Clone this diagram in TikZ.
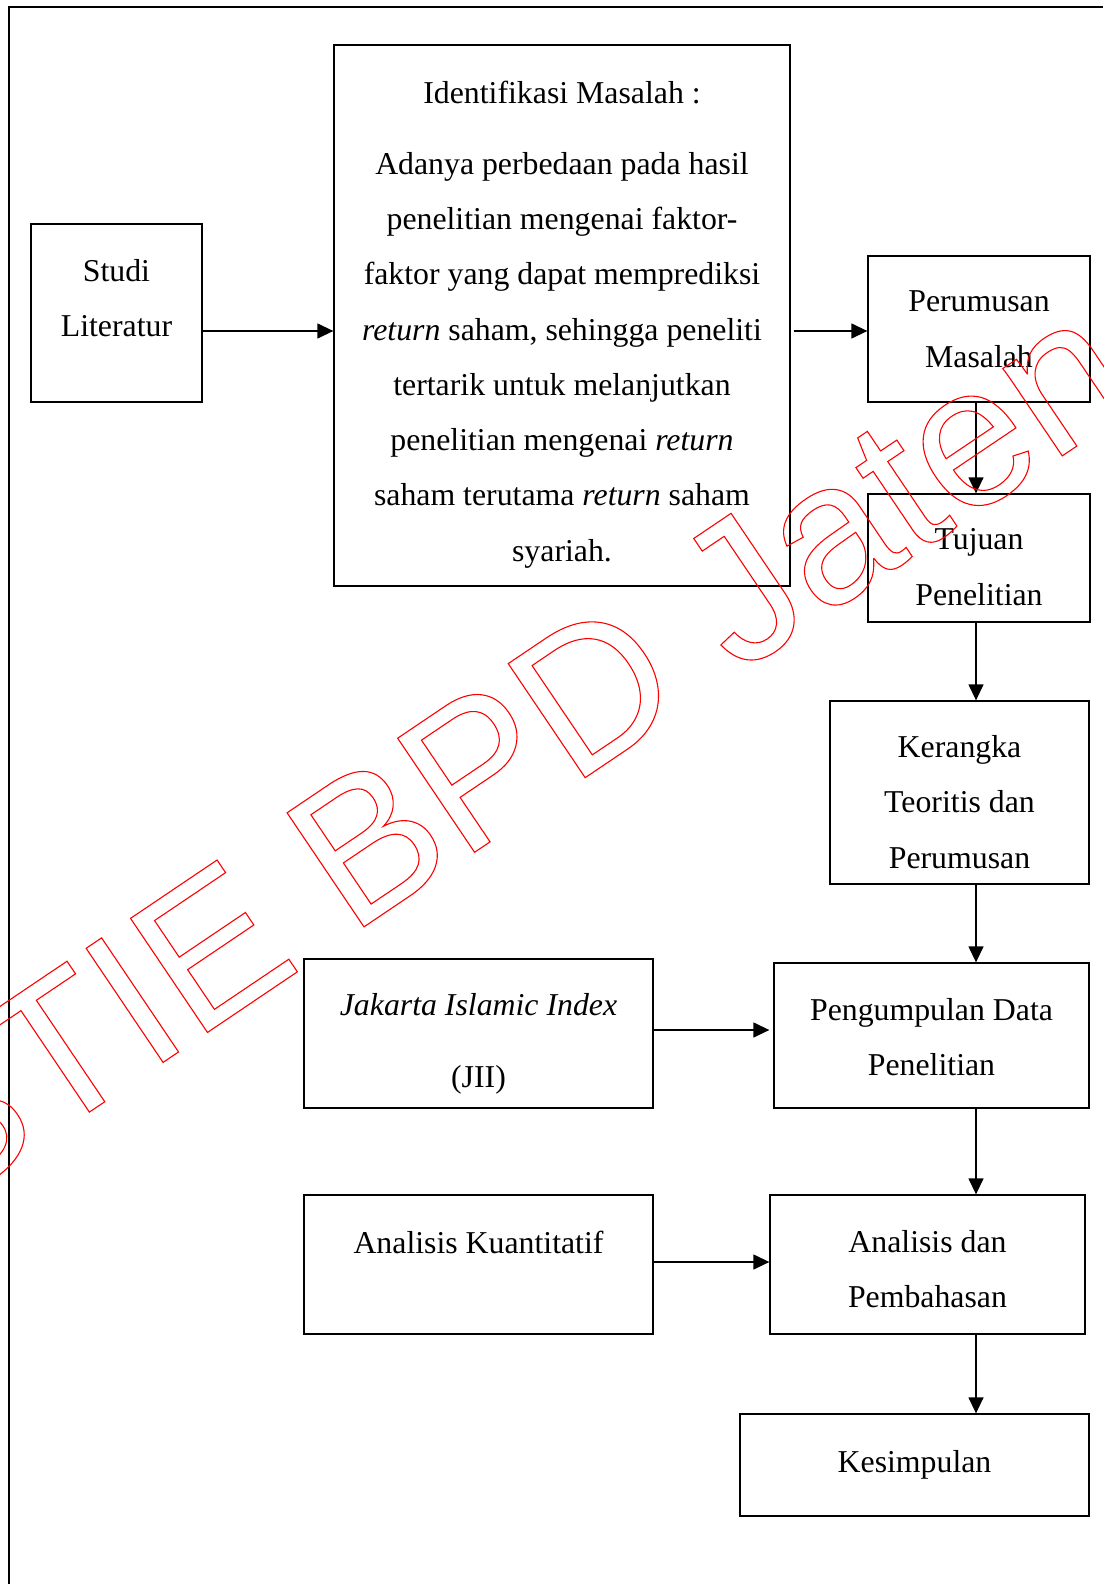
\documentclass[tikz,border=0pt]{standalone}
\usepackage{fontspec}
\setmainfont{Liberation Serif}
\newfontfamily\tandafont{Liberation Sans}
\usetikzlibrary{arrows.meta}
\newcommand\hurufgaris{\special{pdf:literal direct 1 Tr 1.1 w}}
\newcommand\hurufpenuh{\special{pdf:literal direct 0 Tr}}

\tikzset{
  kotak/.style={draw, line width=1.3pt, inner sep=0pt},
  teks/.style={align=center, inner sep=0pt, font=\fontsize{31.8}{55.3}\selectfont,
    execute at begin node=\strut, execute at end node=\strut},
  panah/.style={-{Triangle[length=16pt,width=15pt]}, line width=1.3pt},
}

\begin{document}
\begin{tikzpicture}[x=1pt,y=-1pt]
\useasboundingbox (0,0) rectangle (1103,1584);
\draw[line width=1.8pt] (1103,7) -- (9,7) -- (9,1584);

% kotak
\node[kotak, minimum width=171pt, minimum height=178pt] (studi) at (116.5,313) {};
\node[kotak, minimum width=456pt, minimum height=541pt] (ident) at (562,315.5) {};
\node[kotak, minimum width=222pt, minimum height=146pt] (perumusan) at (979,329) {};
\node[kotak, minimum width=222pt, minimum height=128pt] (tujuan) at (979,558) {};
\node[kotak, minimum width=259pt, minimum height=183pt] (kerangka) at (959.5,792.5) {};
\node[kotak, minimum width=315pt, minimum height=145pt] (pengumpulan) at (931.5,1035.5) {};
\node[kotak, minimum width=349pt, minimum height=149pt] (jii) at (478.5,1033.5) {};
\node[kotak, minimum width=349pt, minimum height=139pt] (kuantitatif) at (478.5,1264.5) {};
\node[kotak, minimum width=315pt, minimum height=139pt] (analisis) at (927.5,1264.5) {};
\node[kotak, minimum width=349pt, minimum height=102pt] (kesimpulan) at (914.5,1465) {};

% isi
\node[teks] (studi-t) at (116.5,306) {Studi\\Literatur};
\node[teks] (ident-judul) at (562,92) {Identifikasi Masalah :};
\node[teks] (ident-t) at (562,365) {Adanya perbedaan pada hasil\\
  penelitian mengenai faktor-\\
  faktor yang dapat memprediksi\\
  \textit{return} saham, sehingga peneliti\\
  tertarik untuk melanjutkan\\
  penelitian mengenai \textit{return}\\
  saham terutama \textit{return} saham\\
  syariah.};
\node[teks] (perumusan-t) at (979,337.4) {Perumusan\\Masalah};
\node[teks] (tujuan-t) at (979,575.3) {Tujuan\\Penelitian};
\node[teks] (kerangka-t) at (959.5,810.2) {Kerangka\\Teoritis dan\\Perumusan};
\node[teks] (pengumpulan-t) at (931.5,1045) {Pengumpulan Data\\Penelitian};
\node[teks] (jii-t) at (478.5,1049) {\textit{Jakarta Islamic Index}\\[17pt](JII)};
\node[teks] (kuantitatif-t) at (478.5,1242) {Analisis Kuantitatif};
\node[teks] (analisis-t) at (927.5,1277.5) {Analisis dan\\Pembahasan};
\node[teks] (kesimpulan-t) at (914.5,1461.6) {Kesimpulan};

% panah
\coordinate (baris) at (0,331);
\coordinate (jalur) at (976,0);
\draw[panah] (studi.east |- baris) -- (ident.west |- baris);
\draw[panah, shorten <=3pt] (ident.east |- baris) -- (perumusan.west |- baris);
\draw[panah] (perumusan.south -| jalur) -- (tujuan.north -| jalur);
\draw[panah] (tujuan.south -| jalur) -- (kerangka.north -| jalur);
\draw[panah] (kerangka.south -| jalur) -- (pengumpulan.north -| jalur);
\draw[panah, shorten >=4pt] ([yshift=3.5pt]jii.east) -- ([yshift=3.5pt]jii.east -| pengumpulan.west);
\draw[panah] (pengumpulan.south -| jalur) -- (analisis.north -| jalur);
\draw[panah] ([yshift=2.5pt]kuantitatif.east) -- ([yshift=2.5pt]kuantitatif.east -| analisis.west);
\draw[panah] (analisis.south -| jalur) -- (kesimpulan.north -| jalur);

% tanda air
\node[text=red, rotate=34, anchor=base, inner sep=0pt,
  font=\tandafont\fontsize{200}{200}\selectfont] (tandaair) at (585.6,777.4)
  {\hurufgaris STIE BPD Jateng\hurufpenuh};
%\draw[step=50,color=gray!50!white] (0,0) grid (1103,1584);
\end{tikzpicture}
\end{document}
